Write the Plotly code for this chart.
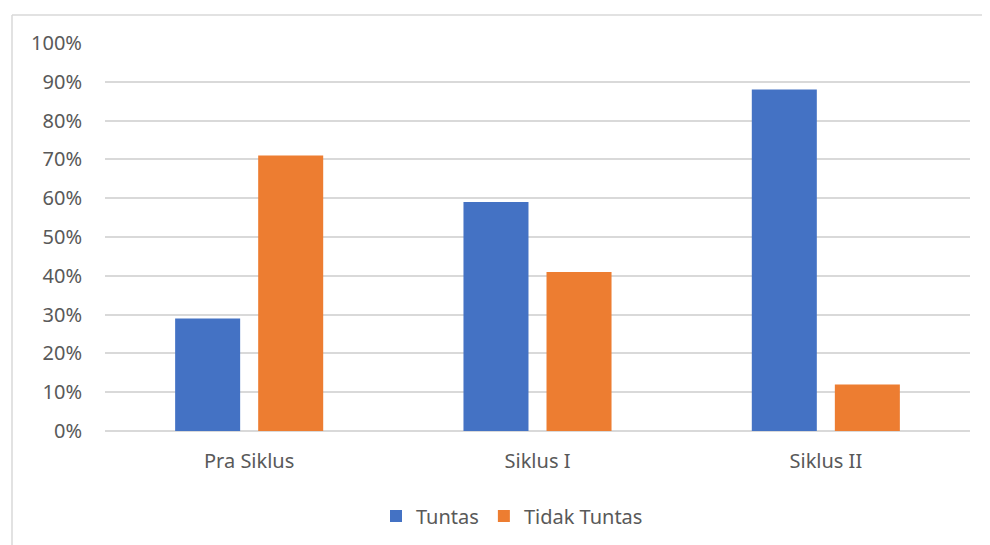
import plotly.graph_objects as go

categories = ["Pra Siklus", "Siklus I", "Siklus II"]
tuntas = [0.29, 0.59, 0.88]
tidak_tuntas = [0.71, 0.41, 0.12]
tick_vals = [0, 0.1, 0.2, 0.3, 0.4, 0.5, 0.6, 0.7, 0.8, 0.9, 1.0]
tick_text = ["0%", "10%", "20%", "30%", "40%", "50%", "60%", "70%", "80%", "90%", "100%"]

FONT = "Noto Sans"
GREY = "#595959"
FS = 20

fig = go.Figure()
fig.add_trace(go.Bar(name="Tuntas", x=categories, y=tuntas, marker=dict(color="#4472C4", line=dict(width=0))))
fig.add_trace(go.Bar(name="Tidak Tuntas", x=categories, y=tidak_tuntas, marker=dict(color="#ED7D31", line=dict(width=0))))

OFF = 8  # page body margin
W, H = 990, 545
L, T = 105 - OFF, 43 - OFF
R = W - (970 - OFF)
B = H - (431 - OFF)
pw, ph = W - L - R, H - T - B

def px(x):
    return (x - OFF - L) / pw

def py(y):
    return (H - B - (y - OFF)) / ph

fig.update_layout(
    width=W, height=H,
    margin=dict(l=L, r=R, t=T, b=B),
    paper_bgcolor="white", plot_bgcolor="white",
    barmode="group", bargap=0.424, bargroupgap=0.217,
    font=dict(family=FONT, size=FS, color=GREY),
    showlegend=True,
    legend=dict(orientation="h", x=px(512), xanchor="center", y=py(516), yanchor="middle",
                font=dict(family=FONT, size=FS, color=GREY),
                traceorder="normal"),
    xaxis=dict(showgrid=False, showline=False, ticks="", ticklabelstandoff=16,
               tickfont=dict(size=FS, color=GREY)),
    yaxis=dict(range=[0, 1.0], tickvals=tick_vals, ticktext=tick_text, showgrid=True,
               gridcolor="#D9D9D9", gridwidth=1.5, zeroline=True, zerolinecolor="#D9D9D9",
               zerolinewidth=1.5, showline=False, ticks="", ticklabelstandoff=22,
               tickfont=dict(size=FS, color=GREY)),
    shapes=[
        dict(type="line", xref="paper", yref="paper", x0=px(12), x1=px(1000), y0=py(15), y1=py(15),
             line=dict(color="#D9D9D9", width=1.5)),
        dict(type="line", xref="paper", yref="paper", x0=px(12), x1=px(12), y0=py(15), y1=py(560),
             line=dict(color="#D9D9D9", width=1.5)),
    ],
)

fig.write_html("out.html")
